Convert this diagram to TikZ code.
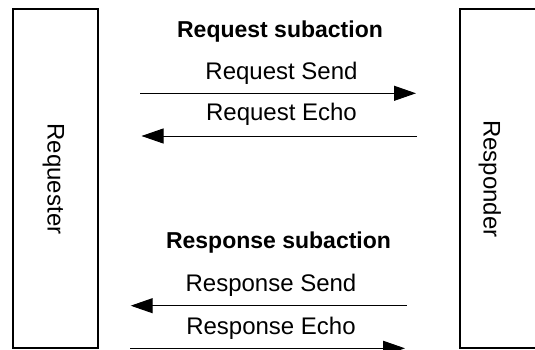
\documentclass[tikz,border=0pt]{standalone}
\usepackage{fontspec}
\setmainfont{Liberation Sans}
\usetikzlibrary{arrows.meta}
\tikzset{
  party/.style={draw=black, line width=1.3pt, minimum width=85pt, minimum height=339pt, inner sep=0pt},
  partylabel/.style={rotate=-90, anchor=base, inner sep=0pt, font=\fontsize{24}{28}\selectfont},
  title/.style={anchor=base, inner sep=0pt, font=\fontsize{23}{27}\selectfont\bfseries},
  msglabel/.style={anchor=base, inner sep=0pt, font=\fontsize{24}{28}\selectfont},
  msg/.style={line width=1pt, -{Triangle[length=22pt,width=15pt]}},
}
\begin{document}
\begin{tikzpicture}[x=1pt, y=-1pt]
  \useasboundingbox (0,0) rectangle (535,350);

  % the two parties
  \node[party] (req) at (55.5,178.5) {};
  \node[party] (resp) at (502.5,178.5) {};
  \node[partylabel] (reqlabel) at (47.5,179) {Requester};
  \node[partylabel] (resplabel) at (483.5,179) {Responder};

  % request subaction
  \node[title] (reqtitle) at (280,37.3) {Request subaction};
  \node[msglabel] (reqsendlabel) at (281.5,79.3) {Request Send};
  \node[msglabel] (reqecholabel) at (281.5,121) {Request Echo};
  \coordinate (rs1) at (140,93.3);
  \coordinate (rs2) at (416,93.3);
  \coordinate (re1) at (417,136);
  \coordinate (re2) at (141.5,136);
  \draw[msg] (rs1) -- (rs2);
  \draw[msg] (re1) -- (re2);

  % response subaction
  \node[title] (resptitle) at (278.5,248) {Response subaction};
  \node[msglabel] (respsendlabel) at (271,291.7) {Response Send};
  \node[msglabel] (respecholabel) at (271,334) {Response Echo};
  \coordinate (ps1) at (406.7,305.7);
  \coordinate (ps2) at (130.7,305.7);
  \coordinate (pe1) at (130,348.3);
  \coordinate (pe2) at (405,348.3);
  \draw[msg] (ps1) -- (ps2);
  \draw[msg] (pe1) -- (pe2);
\end{tikzpicture}
\end{document}
